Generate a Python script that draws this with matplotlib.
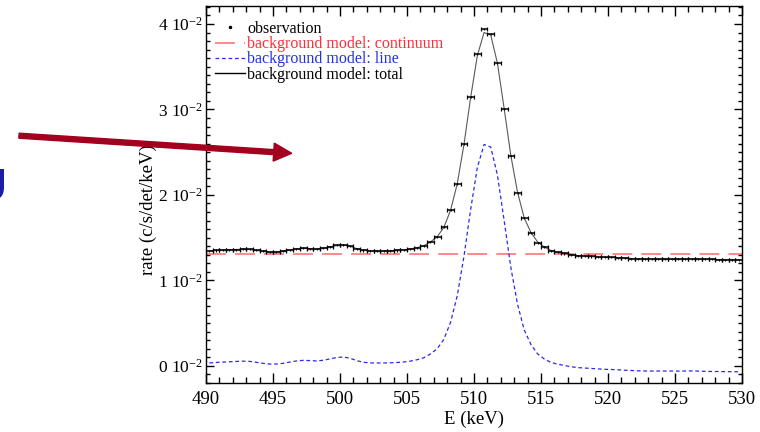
import numpy as np
import matplotlib
matplotlib.use("Agg")
import matplotlib.pyplot as plt
from matplotlib.lines import Line2D
from matplotlib.patches import FancyArrow
from matplotlib.ticker import MultipleLocator, FuncFormatter

plt.rcParams["font.family"] = ["Liberation Serif", "DejaVu Serif"]
plt.rcParams["mathtext.fontset"] = "custom"
plt.rcParams["mathtext.rm"] = "Liberation Serif"
plt.rcParams["mathtext.it"] = "Liberation Serif:italic"

# bin centres, 0.5 keV bins from 490 to 530 keV
energy = np.arange(490.25, 530.0, 0.5)

# rates in units of 1e-2 c/s/det/keV
obs_rate = [
    1.345, 1.350, 1.355, 1.355, 1.360, 1.365, 1.365, 1.355, 1.340, 1.330,
    1.330, 1.340, 1.355, 1.370, 1.375, 1.370, 1.365, 1.375, 1.390, 1.410,
    1.415, 1.400, 1.370, 1.350, 1.345, 1.345, 1.345, 1.345, 1.350, 1.355,
    1.365, 1.380, 1.400, 1.450, 1.505, 1.620, 1.820, 2.130, 2.600, 3.150,
    3.650, 3.940, 3.880, 3.540, 3.000, 2.450, 2.020, 1.730, 1.560, 1.440,
    1.390, 1.345, 1.330, 1.315, 1.300, 1.290, 1.285, 1.280, 1.275, 1.270,
    1.270, 1.265, 1.260, 1.255, 1.250, 1.250, 1.250, 1.250, 1.250, 1.250,
    1.248, 1.250, 1.250, 1.248, 1.245, 1.245, 1.243, 1.243, 1.242, 1.240,
]
obs_err = 0.012

model_total = [
    1.345, 1.350, 1.355, 1.358, 1.362, 1.365, 1.363, 1.352, 1.340, 1.332,
    1.332, 1.340, 1.355, 1.368, 1.375, 1.372, 1.368, 1.376, 1.392, 1.408,
    1.414, 1.400, 1.372, 1.352, 1.345, 1.344, 1.344, 1.346, 1.350, 1.356,
    1.366, 1.382, 1.405, 1.450, 1.510, 1.620, 1.820, 2.130, 2.590, 3.140,
    3.630, 3.900, 3.870, 3.540, 3.010, 2.460, 2.030, 1.730, 1.560, 1.450,
    1.390, 1.350, 1.330, 1.315, 1.300, 1.290, 1.285, 1.280, 1.275, 1.270,
    1.268, 1.264, 1.260, 1.256, 1.252, 1.250, 1.250, 1.250, 1.250, 1.250,
    1.249, 1.250, 1.251, 1.249, 1.246, 1.245, 1.244, 1.243, 1.242, 1.241,
]

model_line = [
    0.035, 0.040, 0.045, 0.048, 0.052, 0.055, 0.053, 0.042, 0.030, 0.022,
    0.022, 0.030, 0.045, 0.058, 0.065, 0.062, 0.058, 0.066, 0.082, 0.098,
    0.104, 0.090, 0.062, 0.042, 0.035, 0.034, 0.034, 0.036, 0.040, 0.046,
    0.056, 0.072, 0.095, 0.140, 0.200, 0.310, 0.510, 0.820, 1.280, 1.830,
    2.320, 2.590, 2.560, 2.230, 1.700, 1.150, 0.720, 0.420, 0.250, 0.140,
    0.080, 0.040, 0.020, 0.005, -0.010, -0.020, -0.025, -0.030, -0.035, -0.040,
    -0.042, -0.046, -0.050, -0.054, -0.058, -0.060, -0.060, -0.060, -0.060, -0.060,
    -0.061, -0.060, -0.059, -0.061, -0.064, -0.065, -0.066, -0.067, -0.068, -0.069,
]

continuum = 1.31
e_range = [490, 530]

fig = plt.figure(figsize=(7.6, 4.32), dpi=100)
ax = fig.add_axes([206 / 760, 49 / 432, 536 / 760, 377 / 432])

red = "#ff6a6a"
blue = "#2a2aee"

ax.plot(e_range, [continuum, continuum], color=red, lw=1.1, dashes=[13, 6])
ax.plot(energy, model_line, color=blue, lw=0.9, dashes=[3, 2.2])
ax.plot(energy, model_total, color="0.35", lw=0.8)
# horizontal bin-width bars with end ticks, tiny vertical errors
ax.errorbar(energy, obs_rate, xerr=0.25, fmt="none",
            ecolor="black", elinewidth=1.1, capsize=1.7, capthick=0.9)
ax.errorbar(energy, obs_rate, yerr=obs_err, fmt="none",
            ecolor="black", elinewidth=0.9, capsize=0)

ax.set_xlim(490, 530)
ax.set_ylim(-0.2, 4.21)

ax.xaxis.set_major_locator(MultipleLocator(5))
ax.xaxis.set_minor_locator(MultipleLocator(1))
ax.yaxis.set_major_locator(MultipleLocator(1))
ax.yaxis.set_minor_locator(MultipleLocator(0.1))
ax.yaxis.set_major_formatter(FuncFormatter(lambda v, p: f"{int(round(v))} 10$^{{-2}}$"))

ax.tick_params(which="both", direction="in", top=True, right=True)
ax.tick_params(axis="x", which="major", length=7, width=1, labelsize=13.5, pad=6)
ax.tick_params(axis="x", which="minor", length=4.5, width=1)
ax.tick_params(axis="y", which="major", length=5.5, width=1, labelsize=12.5, pad=2)
ax.tick_params(axis="y", which="minor", length=2.8, width=1)
for s in ax.spines.values():
    s.set_linewidth(1.0)

ax.set_xlabel("E (keV)", fontsize=13.5, labelpad=2)
ax.set_ylabel("rate (c/s/det/keV)", fontsize=13.5)
ax.yaxis.set_label_coords(-0.092, 0.46)

handles = [
    Line2D([], [], ls="none", marker=".", color="black", markersize=3),
    Line2D([], [], color=red, lw=1.1, dashes=[13, 6]),
    Line2D([], [], color=blue, lw=0.9, dashes=[3, 2.2]),
    Line2D([], [], color="black", lw=1.0),
]
labels = ["observation", "background model: continuum",
          "background model: line", "background model: total"]
leg = ax.legend(handles, labels, loc="upper left", bbox_to_anchor=(-0.005, 0.99),
                frameon=False, fontsize=11.5, handlelength=1.9, handletextpad=0.15,
                labelspacing=-0.05, borderpad=0.2)
for t, c in zip(leg.get_texts(), ["black", "#ff2d3a", "#2233dd", "black"]):
    t.set_color(c)

# slide decorations around the chart
arrow = FancyArrow(0.19, 2.963, 2.727, -0.176, width=0.05, head_width=0.18,
                   head_length=0.18, length_includes_head=True,
                   color="#a3001f", transform=fig.dpi_scale_trans, zorder=10)
fig.add_artist(arrow)
fig.text(8 / 760, 1 - 188 / 432, "U", ha="right", va="center", fontsize=31,
         fontweight="bold", color="#1c1ca8", family="DejaVu Sans")

fig.savefig("out.png", dpi=100)
